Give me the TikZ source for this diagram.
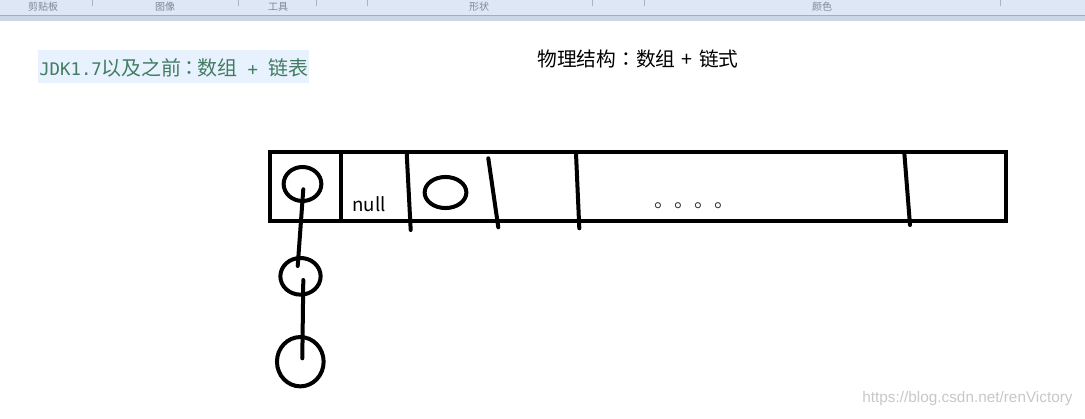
\documentclass[tikz,border=0pt]{standalone}
\usepackage{fontspec}
\setmainfont{Noto Sans CJK SC}
\newfontfamily\cjkf{Noto Sans CJK SC}
\newfontfamily\cjkpunct{Noto Sans CJK TC}
\newfontfamily\monof{DejaVu Sans Mono}
\newfontfamily\arialf{Liberation Sans}
\usetikzlibrary{shapes.geometric}
\definecolor{tbarbg}{RGB}{221,231,245}
\definecolor{tbarline}{RGB}{160,174,194}
\definecolor{tbarband}{RGB}{204,214,230}
\definecolor{tbartext}{RGB}{125,135,150}
\definecolor{tbarsep}{RGB}{170,180,195}
\definecolor{notebg}{RGB}{232,242,254}
\definecolor{notetext}{RGB}{66,124,98}
\definecolor{wmark}{RGB}{200,200,200}
\definecolor{dotc}{RGB}{60,50,40}
\tikzset{
  stroke/.style={line width=3pt, line cap=round, line join=miter},
  ring/.style={ellipse, draw, line width=3pt, inner sep=0pt, outer sep=0pt},
  tbarlabel/.style={text=tbartext, font=\cjkf\fontsize{7.5}{8}\selectfont, inner sep=0pt},
}
\begin{document}
\begin{tikzpicture}[x=0.75pt,y=-0.75pt]
\useasboundingbox (0,0) rectangle (1085,418);
\fill[white] (0,0) rectangle (1085,418);
% toolbar strip
\fill[tbarbg] (0,0) rectangle (1085,15);
\fill[tbarband] (0,15.5) rectangle (1085,21);
\draw[tbarline, line width=0.75pt] (0,15.5) -- (1085,15.5);
\foreach \sx in {92,238,316,367,592,644,1000}
  \draw[tbarsep, line width=0.6pt] (\sx,0) -- (\sx,6);
\node[tbarlabel] (tb1) at (43,6.5) {剪贴板};
\node[tbarlabel] (tb2) at (165,6.5) {图像};
\node[tbarlabel] (tb3) at (278,6.5) {工具};
\node[tbarlabel] (tb4) at (479,6.5) {形状};
\node[tbarlabel] (tb5) at (822,6.5) {颜色};
% note box
\fill[notebg] (38,50) rectangle (309,83);
\node[anchor=west, inner sep=0pt, text=notetext] (note) at (39,67.5)
  {\monof\fontsize{13}{15}\selectfont JDK1.7{\cjkf\fontsize{15}{17}\selectfont 以及之前\kern-.12em{\cjkpunct ：}\kern-.12em 数组}\ +\ {\cjkf\fontsize{15}{17}\selectfont 链表}};
% title
\node[inner sep=0pt, font=\cjkf\fontsize{14.8}{17}\selectfont] (title) at (638,59) {物理结构{\cjkpunct ：}数组\kern.32em+\kern.32em 链式};
% array rectangle
\draw[stroke, line cap=butt] (270,152) rectangle (1006,221);
\coordinate (d0t) at (341,152); \coordinate (d0b) at (341,221);
\coordinate (d1t) at (406.7,153.3); \coordinate (d1b) at (410.7,230);
\coordinate (d2t) at (488.3,158.3); \coordinate (d2b) at (498.3,227.3);
\coordinate (d3t) at (576,153.3); \coordinate (d3b) at (579.3,228.3);
\coordinate (d4t) at (904.3,152.7); \coordinate (d4b) at (910,225);
\draw[stroke, line cap=butt] (d0t) -- (d0b);
\draw[stroke] (d1t) -- (d1b);
\draw[stroke] (d2t) -- (d2b);
\draw[stroke] (d3t) -- (d3b);
\draw[stroke] (d4t) -- (d4b);
% rings
\node[ring, minimum width=28.3pt, minimum height=25.5pt] (c1) at (302.5,184) {};
\node[ring, minimum width=31.3pt, minimum height=23.3pt] (c2) at (445.5,192.5) {};
\node[ring, minimum width=30.2pt, minimum height=27.5pt] (c3) at (300.5,276.3) {};
\node[ring, minimum width=35pt, minimum height=37pt] (c4) at (300.3,361.7) {};
% chain links
\coordinate (l1a) at (303.3,189.3); \coordinate (l1b) at (297.7,266);
\coordinate (l2a) at (303.3,280); \coordinate (l2b) at (302.3,358.3);
\draw[stroke] (l1a) -- (l1b);
\draw[stroke] (l2a) -- (l2b);
% texts
\node[inner sep=0pt, font=\cjkf\fontsize{14}{16}\selectfont] (null) at (369,204) {null};
\node[anchor=base west, inner sep=0pt, text=dotc, font=\cjkf\fontsize{15}{15}\selectfont] (dots) at (654.5,207) {。。。。};
\node[inner sep=0pt, text=wmark, font=\arialf\fontsize{11.5}{13}\selectfont] (wm) at (967.5,399) {https://blog.csdn.net/renVictory};
\end{tikzpicture}
\end{document}
